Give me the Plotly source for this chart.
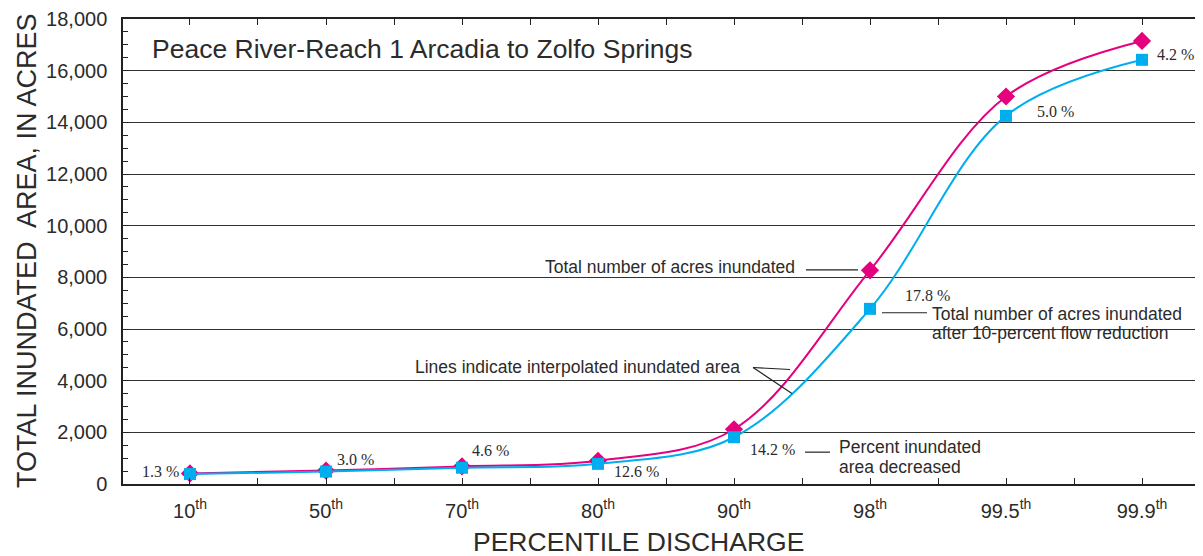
import plotly.graph_objects as go

# percentile discharge categories
percentiles = ["10", "50", "70", "80", "90", "98", "99.5", "99.9"]
# total acres inundated
acres_total = [410, 520, 680, 900, 2120, 8270, 15000, 17150]
# acres inundated after 10-percent flow reduction
acres_reduced = [385, 480, 630, 780, 1810, 6780, 14250, 16420]
# percent inundated area decreased
pct_labels = ["1.3 %", "3.0 %", "4.6 %", "12.6 %", "14.2 %", "17.8 %", "5.0 %", "4.2 %"]

PINK = "#E5007E"
BLUE = "#00AEEF"
TXT = "#2b2b2b"
SANS = "Liberation Sans, Arial, sans-serif"
SERIF = "Liberation Serif, Times New Roman, serif"

xs = list(range(len(percentiles)))

fig = go.Figure()
fig.add_trace(go.Scatter(x=xs, y=acres_total, mode="lines+markers",
                         line=dict(color=PINK, width=2, shape="spline"),
                         marker=dict(symbol="diamond", size=14, color=PINK)))
fig.add_trace(go.Scatter(x=xs, y=acres_reduced, mode="lines+markers",
                         line=dict(color=BLUE, width=2, shape="spline"),
                         marker=dict(symbol="square", size=12, color=BLUE)))

# percent labels next to the points (pixel offsets converted to data units)
pct_pos = [(-0.066, 501, "right"), (1.066, 964, "left"), (2.059, 1310, "left"),
           (3.103, 501, "left"), (4.103, 1349, "left"), (5.243, 7284, "left"),
           (6.213, 14414, "left"), (7.096, 16611, "left")]
for lab, (px, py, anc) in zip(pct_labels, pct_pos):
    fig.add_annotation(x=px, y=py, text=lab, showarrow=False, xanchor=anc, yanchor="middle",
                       font=dict(family=SERIF, size=16, color=TXT))

notes = [
    (-0.294, 16843, "Peace River-Reach 1 Arcadia to Zolfo Springs", 26.5),
    (2.596, 8402, "Total number of acres inundated", 17.5),
    (5.441, 6590, "Total number of acres inundated", 17.5),
    (5.441, 5858, "after 10-percent flow reduction", 17.5),
    (1.640, 4548, "Lines indicate interpolated inundated area", 17.5),
    (4.757, 1425, "Percent inundated", 17.5),
    (4.757, 655, "area decreased", 17.5),
]
for x, y, t, s in notes:
    fig.add_annotation(x=x, y=y, text=t, showarrow=False, xanchor="left", yanchor="middle",
                       font=dict(family=SANS, size=s, color=TXT))

leaders = [
    (4.529, 8286, 4.912, 8286),
    (5.088, 6629, 5.419, 6629),
    (4.140, 4509, 4.412, 4432),
    (4.140, 4509, 4.426, 3507),
    (4.522, 1233, 4.706, 1233),
]
for x0, y0, x1, y1 in leaders:
    fig.add_shape(type="line", x0=x0, y0=y0, x1=x1, y1=y1, line=dict(color="#222", width=1.2))

fig.add_annotation(xref="paper", yref="paper", x=0.477, y=-0.124, text="PERCENTILE DISCHARGE",
                   showarrow=False, xanchor="center", yanchor="middle",
                   font=dict(family=SANS, size=26.5, color=TXT))
fig.add_annotation(xref="paper", yref="paper", x=-0.0889, y=0.503, textangle=-90,
                   text="TOTAL INUNDATED  AREA, IN ACRES", showarrow=False,
                   xanchor="center", yanchor="middle", font=dict(family=SANS, size=27, color=TXT))

fig.update_xaxes(range=[-0.4926, 7.4485], tickmode="array", tickvals=xs,
                 ticktext=[f"{p}<sup>th</sup>" for p in percentiles],
                 ticks="inside", ticklen=6, tickcolor="#222", showline=True, linecolor="#222",
                 linewidth=1.5, mirror="ticks", showgrid=False, zeroline=False,
                 ticklabelstandoff=8, tickfont=dict(family=SANS, size=20, color=TXT),
                 minor=dict(tickmode="array", tickvals=[i + 0.5 for i in range(-1, 8)],
                            ticks="inside", ticklen=6, tickcolor="#222", showgrid=False))
fig.update_yaxes(range=[0, 18000], dtick=2000, tickformat=",", ticks="inside", ticklen=6,
                 tickcolor="#222", showline=True, linecolor="#222", linewidth=1.5,
                 showgrid=True, gridcolor="#333", gridwidth=1, zeroline=False,
                 ticklabelstandoff=10, ticklabeloverflow="allow",
                 tickfont=dict(family=SANS, size=20, color=TXT),
                 minor=dict(dtick=500, ticks="inside", ticklen=5, tickcolor="#222", showgrid=False))

# page body has an 8px margin, so the figure is 8px smaller and margins shifted
fig.update_layout(width=1195, height=548, margin=dict(l=115, r=0, t=9, b=72),
                  plot_bgcolor="white", paper_bgcolor="white", showlegend=False,
                  font=dict(family=SANS, color=TXT))

fig.write_html("out.html")
